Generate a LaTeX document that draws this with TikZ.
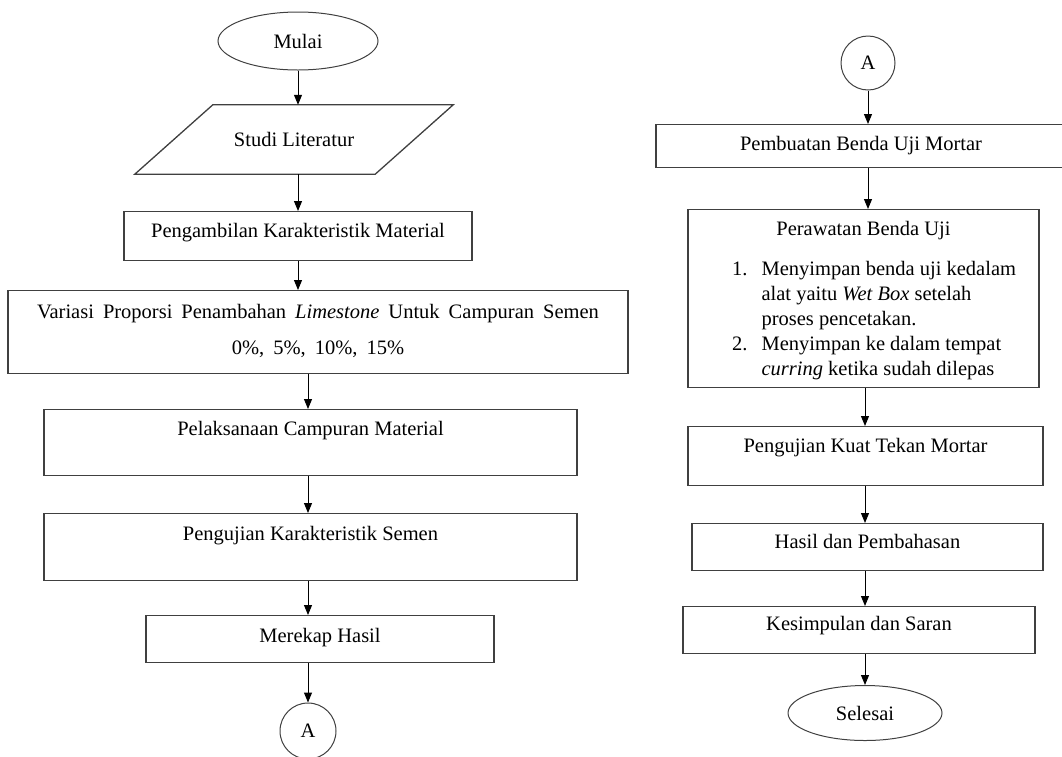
\documentclass[tikz,border=0pt]{standalone}
\usepackage{fontspec}
\setmainfont{Liberation Serif}
\usepackage{tikz}
\usetikzlibrary{arrows.meta,calc,positioning,shapes.geometric}
\definecolor{LineGray}{HTML}{404040}
\tikzset{
  flowbox/.style={draw=LineGray,line width=1.3pt,rectangle,inner sep=0pt,anchor=north},
  terminal/.style={draw=LineGray,line width=1pt,ellipse,inner sep=0pt},
  connector/.style={draw=LineGray,line width=1pt,circle,inner sep=0pt},
  flowarrow/.style={draw=black,line width=1pt,-{Triangle[length=10pt,width=8pt]}},
}

\begin{document}
\begin{tikzpicture}[x=1pt,y=-1pt,font=\fontsize{20.5}{25}\selectfont]
        \useasboundingbox (0,0) rectangle (1062,756);
        % left column
        \node[terminal,minimum width=160pt,minimum height=58pt] (start) at (298,41) {Mulai};
        \node[inner sep=0pt,minimum width=240pt,minimum height=69pt] (lit) at (294,139.5) {Studi Literatur};
        \draw[draw=LineGray,line width=1.3pt]
          ([xshift=39pt]lit.north west) -- ([xshift=39pt]lit.north east)
          -- ([xshift=-39pt]lit.south east) -- ([xshift=-39pt]lit.south west) -- cycle;
        \node[flowbox,minimum width=348pt,text height=26pt,text depth=23pt] (mat) at (298,211)
          {Pengambilan Karakteristik Material};
        \node[flowbox,minimum width=620pt,text height=28pt,text depth=55pt] (var) at (318,290)
          {\parbox[t]{600pt}{\centering\spaceskip=9pt plus 1pt
           Variasi Proporsi Penambahan \textit{Limestone} Untuk Campuran Semen\\[11pt]
           0\%, 5\%, 10\%, 15\%}};
        \node[flowbox,minimum width=533pt,text height=26pt,text depth=40pt] (mix) at (310.5,409)
          {Pelaksanaan Campuran Material};
        \node[flowbox,minimum width=533pt,text height=27pt,text depth=40pt] (cem) at (310.5,513)
          {Pengujian Karakteristik Semen};
        \node[flowbox,minimum width=348pt,text height=27pt,text depth=20pt] (rec) at (320,615)
          {Merekap Hasil};
        \node[connector,minimum size=56pt] (conA) at (308,731) {A};
        % right column
        \node[connector,minimum size=54pt] (conB) at (868,63) {A};
        \node[flowbox,minimum width=410pt,text height=26pt,text depth=17pt] (mor) at (861,124)
          {Pembuatan Benda Uji Mortar};
        \node[flowbox,minimum width=351pt,text height=26pt,text depth=152pt] (care) at (863.5,209)
          {Perawatan Benda Uji};
        \node[anchor=base west,inner sep=0pt] (steps) at (732,275)
          {\begin{tabular}[t]{@{}r@{\hspace{14pt}}l@{}}
             1. & Menyimpan benda uji kedalam\\
                & alat yaitu \textit{Wet Box} setelah\\
                & proses pencetakan.\\
             2. & Menyimpan ke dalam tempat\\
                & \textit{curring} ketika sudah dilepas
           \end{tabular}};
        \node[flowbox,minimum width=355pt,text height=26pt,text depth=33pt] (ten) at (865.5,426)
          {Pengujian Kuat Tekan Mortar};
        \node[flowbox,minimum width=351pt,text height=25pt,text depth=22pt] (res) at (867.5,523)
          {Hasil dan Pembahasan};
        \node[flowbox,minimum width=352pt,text height=24pt,text depth=23pt] (con) at (859,606)
          {Kesimpulan dan Saran};
        \node[terminal,minimum width=154pt,minimum height=55pt] (stop) at (865,713) {Selesai};
        % arrows
        \draw[flowarrow] (start.south) -- (start.south |- lit.north);
        \foreach \a/\b in {lit/mat,mat/var}
          \draw[flowarrow] (\a.south -| start) -- (\b.north -| start);
        \foreach \a/\b in {var/mix,mix/cem,cem/rec}
          \draw[flowarrow] (\a.south -| conA) -- (\b.north -| conA);
        \draw[flowarrow] (rec.south -| conA) -- (conA.north);
        \draw[flowarrow] (conB.south) -- (conB.south |- mor.north);
        \draw[flowarrow] (mor.south -| conB) -- (care.north -| conB);
        \foreach \a/\b in {care/ten,ten/res,res/con}
          \draw[flowarrow] (\a.south -| stop) -- (\b.north -| stop);
        \draw[flowarrow] (con.south -| stop) -- (stop.north);
      \end{tikzpicture}
\end{document}
